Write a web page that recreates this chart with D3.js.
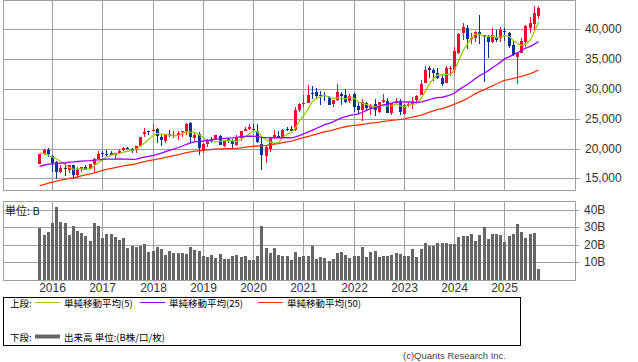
<!DOCTYPE html>
<html>
<head>
<meta charset="utf-8">
<script src="https://cdn.jsdelivr.net/npm/d3@7"></script>
<style>
  html, body { margin: 0; padding: 0; background: #fff; }
  svg text { font-family: "Liberation Sans", "DejaVu Sans", sans-serif; }
  .jp { font-family: "Noto Sans CJK JP", "Noto Sans", sans-serif !important; }
</style>
</head>
<body>
<svg id="chart" width="638" height="362"></svg>
<script>
// monthly candles, Oct 2015 .. Sep 2025
const months = [
  '2015-10','2015-11','2015-12',
  '2016-01','2016-02','2016-03','2016-04','2016-05','2016-06','2016-07','2016-08','2016-09','2016-10','2016-11','2016-12',
  '2017-01','2017-02','2017-03','2017-04','2017-05','2017-06','2017-07','2017-08','2017-09','2017-10','2017-11','2017-12',
  '2018-01','2018-02','2018-03','2018-04','2018-05','2018-06','2018-07','2018-08','2018-09','2018-10','2018-11','2018-12',
  '2019-01','2019-02','2019-03','2019-04','2019-05','2019-06','2019-07','2019-08','2019-09','2019-10','2019-11','2019-12',
  '2020-01','2020-02','2020-03','2020-04','2020-05','2020-06','2020-07','2020-08','2020-09','2020-10','2020-11','2020-12',
  '2021-01','2021-02','2021-03','2021-04','2021-05','2021-06','2021-07','2021-08','2021-09','2021-10','2021-11','2021-12',
  '2022-01','2022-02','2022-03','2022-04','2022-05','2022-06','2022-07','2022-08','2022-09','2022-10','2022-11','2022-12',
  '2023-01','2023-02','2023-03','2023-04','2023-05','2023-06','2023-07','2023-08','2023-09','2023-10','2023-11','2023-12',
  '2024-01','2024-02','2024-03','2024-04','2024-05','2024-06','2024-07','2024-08','2024-09','2024-10','2024-11','2024-12',
  '2025-01','2025-02','2025-03','2025-04','2025-05','2025-06','2025-07','2025-08','2025-09'
];

const open = [
  17480,19090,19790,
  18818,17740,16100,16720,16400,17250,15500,16600,16950,16600,17400,18300,
  19234,19150,19300,18900,19300,19700,20100,19950,19700,20400,22400,22900,
  23073,23200,22000,21300,22500,22200,22300,22700,22700,24200,21700,22500,
  19655,20800,21400,21400,22100,20400,21600,21300,20600,21800,22900,23300,
  23319,22900,20800,18700,19900,22000,22100,22000,23200,23200,23100,26500,
  27575,27700,29300,29400,28900,28900,28700,27500,28200,29200,29000,27900,
  29098,27100,26500,27700,26800,27500,26100,27800,28000,26000,27600,28000,
  25717,27300,27400,28100,29000,31000,33500,33200,32700,31800,31000,33400,
  33193,36100,39300,40200,38300,38500,39600,39000,38700,37800,38700,38500,
  39700,39400,37300,35400,36000,37800,40300,40900,42300
];
const high = [
  19115,19939,20012,
  18951,17905,17291,17613,17251,17250,16938,16922,17159,17446,18380,19592,
  19615,19668,19656,19289,19962,20318,20230,20080,20481,22012,23382,23000,
  24129,23486,22502,22500,23050,23011,22949,23000,24286,24448,22583,22698,
  20874,21556,21860,22307,22300,21500,21823,21540,22255,22974,23608,24091,
  24115,24083,21719,20365,22000,23178,23000,23338,23608,23725,26890,27602,
  28979,30714,30485,30208,29685,29480,28852,28139,30795,29489,29960,29121,
  29388,27880,28338,27850,27500,28389,27885,29222,28500,27600,28502,28226,
  27500,27800,28700,28900,31560,33772,33800,33488,33533,32533,33853,33800,
  36984,39426,41087,40697,39437,39700,42426,39000,39100,40257,39884,40398,
  40288,39600,38220,36000,38494,40800,42065,43876,43900
];
const low = [
  17390,18900,18563,
  16017,14865,15858,15471,15975,14864,15106,15998,16358,16513,16111,18200,
  18650,18805,18981,18224,19227,19600,19850,19280,19230,20400,21973,22200,
  23000,20950,20347,21000,21931,21800,21462,21851,22307,20971,21243,18948,
  19241,20315,20911,21400,20551,20289,21000,20110,20500,21277,22900,23044,
  22892,20916,16358,17646,19448,21529,21710,21800,22900,22948,22900,26100,
  27000,27600,28300,28500,27385,28000,27272,26954,28000,27293,27589,27600,
  26044,25775,24681,26321,25688,25520,25935,27600,25890,25621,27400,25700,
  25661,27000,26632,27400,28900,31000,31791,31275,31674,30487,31000,32205,
  32693,35800,38271,36733,37617,37951,37611,31156,35247,37652,37800,37800,
  38055,36793,35526,30792,36000,37000,39300,39900,41800
];
const close = [
  19083,19747,19034,
  17518,16027,16759,16666,17235,15576,16569,16887,16450,17425,18308,19114,
  19041,19119,18909,19197,19651,20033,19925,19646,20356,22012,22725,22765,
  23098,22068,21454,22467,22202,22305,22554,22865,24120,21920,22351,20015,
  20773,21385,21206,22259,20601,21276,21522,20704,21756,22927,23294,23657,
  23205,21143,18917,20193,21878,22288,21710,23139,23185,22977,26434,27444,
  27663,28966,29179,28813,28860,28792,27284,28089,29452,28892,27821,28791,
  27001,26526,27821,26847,27279,26393,27801,28091,25937,27587,27968,26095,
  27327,27446,28041,28856,30888,33189,33172,32619,31858,30859,33487,33464,
  36287,39166,40369,38406,38488,39583,39101,38647,37919,39081,38208,39894,
  39572,37156,35618,36045,37965,40487,41070,42718,43640
];
// monthly closes Jan 2011 .. Sep 2015, needed for the moving averages
const priorCloses = [
  10238,10624,9755,9850,9694,9816,9833,8955,8700,8988,8435,8455,
  8803,9723,10083,9521,8543,9007,8695,8840,8870,8928,9446,10395,
  11139,11559,12398,13861,13775,13677,13668,13389,14456,14328,15662,16291,
  14915,14841,14828,14304,14632,15162,15621,15425,16174,16414,17460,17451,
  17674,18798,19207,19520,20563,20236,20585,18890,17388
];
// volume, billions
const volume = [
  29.9,25.7,27.4,
  32.6,41.7,33.3,32.6,25.7,30.9,28.0,26.7,25.1,22.3,32.6,30.9,
  24.0,26.3,26.3,24.6,22.9,24.0,18.3,19.4,18.9,19.4,20.6,16.0,
  16.6,18.9,17.7,14.3,16.6,15.4,15.4,15.4,14.9,18.9,17.1,16.6,
  13.7,13.1,14.3,12.6,14.9,12.0,12.0,13.7,14.3,13.1,13.7,11.4,
  11.4,13.7,30.9,18.3,15.4,18.3,14.3,13.7,13.7,11.4,16.0,13.1,
  13.7,13.7,19.4,12.0,13.1,12.6,10.9,12.0,15.4,16.0,14.3,12.6,
  13.7,13.7,18.9,13.1,16.0,16.6,13.1,13.7,13.7,14.3,15.4,14.9,
  13.7,13.7,17.7,13.1,17.7,21.1,19.4,19.4,21.1,21.1,21.1,20.6,
  20.6,24.6,25.1,25.1,26.3,22.3,25.7,30.3,23.4,26.3,26.3,25.7,
  21.7,25.1,26.3,32.0,27.4,24.0,26.3,26.9,6.3
];

const yearTicks  = ['2016-01','2017-01','2018-01','2019-01','2020-01','2021-01','2022-01','2023-01','2024-01','2025-01'];
const yearLabels = ['2016','2017','2018','2019','2020','2021','2022','2023','2024','2025'];
const priceTicks = [15000, 20000, 25000, 30000, 35000, 40000];
const volTicks   = [10, 20, 30, 40];

const maPeriods = [5, 25, 50];
const maNames   = ['単純移動平均(5)', '単純移動平均(25)', '単純移動平均(50)'];
const maColors  = ['#99cc00', '#9900ff', '#ff3300'];
const upColor = '#ff0033', downColor = '#003399', volColor = '#666666', gridColor = '#a0a0a0';

const svg = d3.select('#chart');

const L = 3, R = 575;
const main = {top: 0, bottom: 190};
const vol  = {top: 201, bottom: 280};

const x = d3.scaleBand().domain(months).range([37.3, 540.1]).padding(0);
const cx = m => Math.round(x(m) + x.bandwidth() / 2);

const y = d3.scaleLinear().domain([13040, 44920]).rangeRound([main.bottom, main.top]);
const yLine = y.copy().interpolate(d3.interpolateNumber);
const yv = d3.scaleLinear().domain([0, 45.1]).rangeRound([vol.bottom, vol.top]);

// moving averages from closes
const allCloses = priorCloses.concat(close);
const P = priorCloses.length;
const maSeries = maPeriods.map(n => months.map((m, i) => ({
  m, v: d3.mean(allCloses.slice(i + P - n + 1, i + P + 1))
})));

// ---- upper panel
svg.append('g')
    .attr('transform', `translate(${L},0)`)
    .call(d3.axisRight(y).tickValues(priceTicks).tickSize(R - L + 5).tickPadding(5).tickFormat(d3.format(',')))
    .call(g => g.select('.domain').remove())
    .call(g => g.selectAll('line').attr('stroke', gridColor))
    .call(g => g.selectAll('text').attr('fill', '#333').attr('font-size', 12)
      .style('font-family', '"Liberation Sans", sans-serif'));

svg.append('g').selectAll('line')
  .data(yearTicks)
  .join('line')
    .attr('x1', d => cx(d) + 0.5).attr('x2', d => cx(d) + 0.5)
    .attr('y1', main.top).attr('y2', main.bottom)
    .attr('stroke', gridColor);

svg.append('rect')
    .attr('x', L + 0.5).attr('y', main.top + 0.5)
    .attr('width', R - L).attr('height', main.bottom - main.top)
    .attr('fill', 'none').attr('stroke', gridColor);

const candles = svg.append('g').selectAll('g')
  .data(months.map((m, i) => ({m, o: open[i], h: high[i], l: low[i], c: close[i]})))
  .join('g')
    .attr('fill', d => d.c >= d.o ? upColor : downColor)
    .attr('stroke', d => d.c >= d.o ? upColor : downColor);

candles.append('line')
    .attr('x1', d => cx(d.m) + 0.5).attr('x2', d => cx(d.m) + 0.5)
    .attr('y1', d => y(d.h)).attr('y2', d => y(d.l));

candles.append('rect')
    .attr('stroke', 'none')
    .attr('x', d => cx(d.m) - 1)
    .attr('width', 3)
    .attr('y', d => Math.min(y(d.o), y(d.c)))
    .attr('height', d => Math.max(1, Math.abs(y(d.o) - y(d.c))));

const line = d3.line().x(d => cx(d.m) + 0.5).y(d => yLine(d.v));
svg.append('g').selectAll('path')
  .data(maSeries)
  .join('path')
    .attr('d', line)
    .attr('fill', 'none')
    .attr('stroke', (d, i) => maColors[i])
    .attr('stroke-width', 1.3);

// ---- volume panel
svg.append('g')
    .attr('transform', `translate(${L},0)`)
    .call(d3.axisRight(yv).tickValues(volTicks).tickSize(R - L + 4).tickPadding(5).tickFormat(d => d + 'B'))
    .call(g => g.select('.domain').remove())
    .call(g => g.selectAll('line').attr('stroke', gridColor))
    .call(g => g.selectAll('text').attr('fill', '#333').attr('font-size', 12)
      .style('font-family', '"Liberation Sans", sans-serif'));

svg.append('g').selectAll('line')
  .data(yearTicks)
  .join('line')
    .attr('x1', d => cx(d) + 0.5).attr('x2', d => cx(d) + 0.5)
    .attr('y1', vol.top).attr('y2', vol.bottom)
    .attr('stroke', gridColor);

svg.append('rect')
    .attr('x', L + 0.5).attr('y', vol.top + 0.5)
    .attr('width', R - L).attr('height', vol.bottom - vol.top)
    .attr('fill', 'none').attr('stroke', gridColor);

svg.append('g').selectAll('rect')
  .data(months.map((m, i) => ({m, v: volume[i]})))
  .join('rect')
    .attr('x', d => cx(d.m) - 1)
    .attr('width', 3)
    .attr('y', d => yv(d.v))
    .attr('height', d => vol.bottom - yv(d.v))
    .attr('fill', volColor);

svg.append('text')
    .attr('class', 'jp')
    .attr('x', 5).attr('y', 214.5)
    .attr('font-size', 11).attr('fill', '#222')
    .text('単位: B');

svg.append('g').selectAll('text')
  .data(yearTicks)
  .join('text')
    .attr('x', d => cx(d) + 0.5)
    .attr('y', 292)
    .attr('text-anchor', 'middle')
    .attr('font-size', 12).attr('fill', '#333')
    .text((d, i) => yearLabels[i]);

// ---- legend
const lg = svg.append('g');
lg.append('rect')
    .attr('x', 3.5).attr('y', 297.5).attr('width', 517).attr('height', 48)
    .attr('fill', 'none').attr('stroke', '#000');

lg.append('text').attr('class', 'jp').attr('x', 10).attr('y', 306.5)
    .attr('font-size', 9.5).attr('fill', '#000').text('上段:');
const itemX = [35, 140, 258];
itemX.forEach((lx, i) => {
  lg.append('line').attr('x1', lx).attr('x2', lx + 25).attr('y1', 302.5).attr('y2', 302.5)
      .attr('stroke', maColors[i]).attr('stroke-width', 1);
  lg.append('text').attr('class', 'jp').attr('x', lx + 29).attr('y', 306.5)
      .attr('font-size', 9.5).attr('fill', '#000').text(maNames[i]);
});

lg.append('text').attr('class', 'jp').attr('x', 10).attr('y', 340.5)
    .attr('font-size', 9.5).attr('fill', '#000').text('下段:');
lg.append('line').attr('x1', 35).attr('x2', 60).attr('y1', 336.5).attr('y2', 336.5)
    .attr('stroke', volColor).attr('stroke-width', 4);
lg.append('text').attr('class', 'jp').attr('x', 64).attr('y', 340.5)
    .attr('font-size', 9.5).attr('fill', '#000').text('出来高 単位:(B株/口/枚)');

svg.append('text')
    .attr('x', 506).attr('y', 359)
    .attr('text-anchor', 'end')
    .attr('font-size', 9.5).attr('fill', '#444')
    .text('(c)Quants Research Inc.');
</script>
</body>
</html>
